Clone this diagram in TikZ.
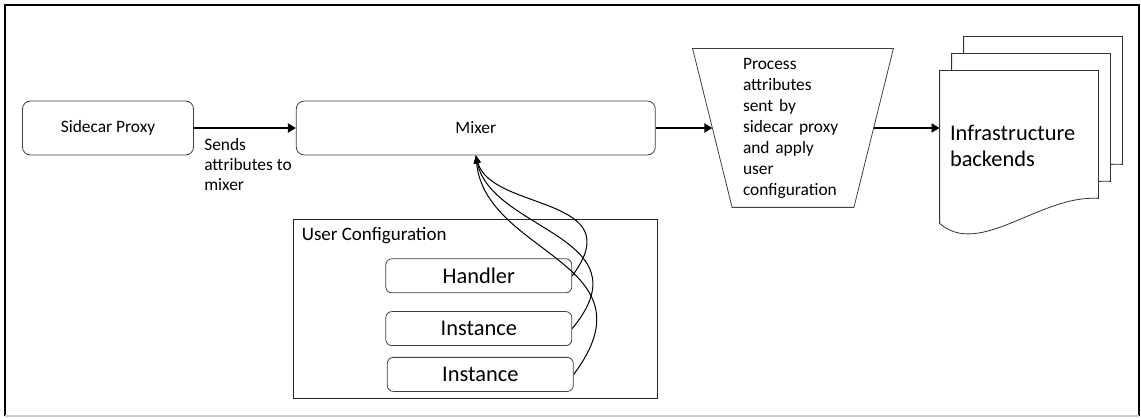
\documentclass[tikz,border=0pt]{standalone}
\usepackage{fontspec}
\setmainfont{Carlito}
\usetikzlibrary{positioning}
\usetikzlibrary{arrows.meta}
\usetikzlibrary{backgrounds}

\tikzset{
    roundbox/.style={rectangle, rounded corners=4pt, draw=black!75, font=\fontsize{8.7}{10.5}\selectfont},
    cfgbox/.style={rectangle, rounded corners=3pt, draw=black!75, minimum width=93pt, minimum height=17pt, inner sep=0pt, font=\fontsize{11.2}{13}\selectfont},
    flow/.style={line width=1.3pt, -{Triangle[length=4pt, width=4.5pt]}},
    feed/.style={line width=0.5pt, -{Triangle[length=4pt, width=3pt]}},
}

\begin{document}
\begin{tikzpicture}
    \useasboundingbox (0,0) rectangle (570.5pt,209pt);
    \draw[line width=1pt] (2.25pt,1pt) -- (2.25pt,206.5pt) -- (569.5pt,206.5pt) -- (569.5pt,1pt);
    \draw[gray!40, line width=0.75pt] (2.25pt,1pt) -- (569.5pt,1pt);

    \node (sidecar) [roundbox, minimum width=85.5pt, minimum height=27pt] at (54pt,145pt) {Sidecar Proxy};
    \node (mixer) [roundbox, minimum width=179.5pt, minimum height=27pt, right = 51pt of sidecar] {Mixer};
    \node (sendslbl) [below right = 3pt and 3pt of sidecar.east, align=left, inner sep=2pt, font=\fontsize{8.7}{10}\selectfont] {Sends\\attributes to\\mixer};

    \node (process) [rectangle, minimum width=100pt, minimum height=79pt, inner sep=0pt, text width=50pt, align=left, font=\fontsize{8.7}{10.5}\selectfont] at (396.5pt,145pt) {Process\\attributes\\sent by\\sidecar proxy\\and apply\\user\\configuration};
    \draw[draw=black!75] (process.north west) -- (process.north east) -- ([xshift=-19.75pt]process.south east) -- ([xshift=19.75pt]process.south west) -- cycle;

    \node (backends) [minimum width=79pt, minimum height=75pt, inner xsep=5pt, text width=69pt, align=left, font=\fontsize{11.2}{13}\selectfont] at (509.5pt,136pt) {Infrastructure\\backends};

    \node (userconf) [rectangle, draw=black!85, minimum width=182pt, minimum height=89.5pt, below = 32pt of mixer] {};
    \node (uclabel) [below right = 2pt and 2pt of userconf.north west, inner sep=2pt, font=\fontsize{9.5}{11}\selectfont] {User Configuration};
    \node (handler) [cfgbox, below = 19.5pt of userconf.north, xshift=1.5pt] {Handler};
    \node (instance0) [cfgbox, below = 9pt of handler] {Instance};
    \node (instance1) [cfgbox, below = 5.5pt of instance0, xshift=0.75pt] {Instance};

    \draw[flow] (sidecar) -- (mixer);
    \draw[flow] (mixer.east) -- ([xshift=9.9pt]process.west);
    \draw[flow] ([xshift=-9.9pt]process.east) -- (process.east -| backends.west);

    \draw[feed] (handler.east) .. controls +(30pt,40pt) and +(8pt,-28pt) .. (mixer.south);
    \draw[feed] (instance0.east) .. controls +(38pt,46pt) and +(8pt,-38pt) .. (mixer.south);
    \draw[feed] (instance1.east) .. controls +(42pt,56pt) and +(5pt,-50pt) .. (mixer.south);

    \begin{scope}[on background layer]
        \foreach \s in {2,1,0}
            \draw[draw=black!80, fill=white, transform canvas={xshift=\s*6pt, yshift=\s*8.5pt}]
                (backends.north west) -- (backends.north east) -- ([yshift=11.5pt]backends.south east)
                .. controls ([xshift=-29pt, yshift=13.5pt]backends.south east) and ([xshift=20pt, yshift=-18.5pt]backends.south west) ..
                ([yshift=-1pt]backends.south west) -- cycle;
    \end{scope}
\end{tikzpicture}
\end{document}
